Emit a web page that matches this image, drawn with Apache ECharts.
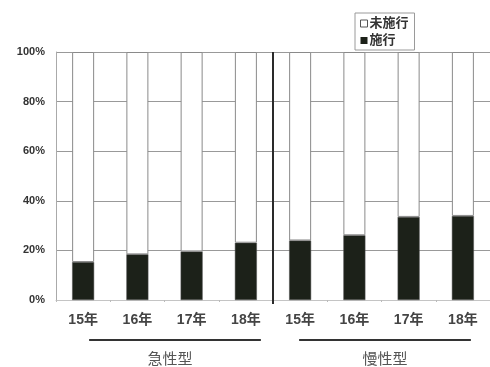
<!DOCTYPE html>
<html>
<head>
<meta charset="utf-8">
<script src="https://cdn.jsdelivr.net/npm/echarts@6/dist/echarts.min.js"></script>
<style>
  html, body { margin: 0; padding: 0; background: #fff; }
  #chart { width: 490px; height: 367px; }
</style>
</head>
<body>
<div id="chart"></div>
<script>
// Year categories, grouped as acute (急性型) and chronic (慢性型)
const categories = ['15年', '16年', '17年', '18年', '15年', '16年', '17年', '18年'];
const groups = ['急性型', '慢性型'];
// Share of cases where the procedure was performed (施行), percent
const performed = [15.3, 18.4, 19.6, 23.1, 24.0, 26.1, 33.5, 33.9];
// Remainder: not performed (未施行)
const notPerformed = performed.map(v => +(100 - v).toFixed(1));
const yTicks = [0, 20, 40, 60, 80, 100];

const chart = echarts.init(document.getElementById('chart'));
const FONT = '"Liberation Sans", Arial, "Noto Sans CJK JP", sans-serif';

chart.setOption({
  animation: false,
  grid: { left: 56, right: -2, top: 52, bottom: 67 },
  legend: {
    orient: 'vertical',
    left: 355,
    top: 13,
    padding: [4, 6, 3, 5],
    itemGap: 4,
    itemWidth: 7,
    itemHeight: 7,
    borderColor: '#9a9a9a',
    borderWidth: 1,
    textStyle: { fontFamily: FONT, fontSize: 13, fontWeight: 'bold', color: '#333', padding: [0, 0, 0, -3] },
    data: [
      { name: '未施行', icon: 'rect', itemStyle: { color: '#fff', borderColor: '#555', borderWidth: 1 } },
      { name: '施行', icon: 'rect', itemStyle: { color: '#1c2119', borderWidth: 0 } }
    ]
  },
  xAxis: {
    type: 'category',
    data: categories,
    axisLine: { lineStyle: { color: '#c4c4c4', width: 1 } },
    axisTick: { show: true, length: 2, lineStyle: { color: '#bbb' } },
    axisLabel: { margin: 13, fontFamily: FONT, fontSize: 14, fontWeight: 'bold', color: '#444' }
  },
  yAxis: {
    type: 'value',
    min: yTicks[0],
    max: yTicks[yTicks.length - 1],
    interval: 20,
    axisLine: { show: true, lineStyle: { color: '#aaa' } },
    axisTick: { show: false },
    splitLine: { lineStyle: { color: '#999', width: 1 } },
    axisLabel: {
      margin: 11,
      fontFamily: FONT, fontSize: 11, fontWeight: 'bold', color: '#333',
      formatter: v => v + '%'
    }
  },
  series: [
    {
      name: '施行',
      type: 'bar',
      stack: 'total',
      barWidth: 22,
      data: performed,
      itemStyle: { color: '#1c2119', borderColor: '#555', borderWidth: 0.5 }
    },
    {
      name: '未施行',
      type: 'bar',
      stack: 'total',
      barWidth: 22,
      data: notPerformed,
      itemStyle: { color: '#fff', borderColor: '#8a8a8a', borderWidth: 1 }
    }
  ]
});

// Group divider, group underlines and group names, placed from the category scale
const px = i => chart.convertToPixel({ xAxisIndex: 0 }, i);
const py = v => chart.convertToPixel({ yAxisIndex: 0 }, v);
const divX = (px(3) + px(4)) / 2;
const plotTop = py(100), plotBottom = py(0);
const lineY = plotBottom + 40;
const textY = plotBottom + 58;
const g1 = [px(0) + 6, px(3) + 15];
const g2 = [px(4) - 1, px(7) + 8];

chart.setOption({
  graphic: [
    { type: 'line', z: 100, shape: { x1: divX, y1: plotTop, x2: divX, y2: plotBottom + 4 },
      style: { stroke: '#2a2a2a', lineWidth: 2 } },
    { type: 'line', z: 100, shape: { x1: g1[0], y1: lineY, x2: g1[1], y2: lineY },
      style: { stroke: '#333', lineWidth: 2 } },
    { type: 'line', z: 100, shape: { x1: g2[0], y1: lineY, x2: g2[1], y2: lineY },
      style: { stroke: '#333', lineWidth: 2 } },
    { type: 'text', z: 100, x: (g1[0] + g1[1]) / 2 - 5, y: textY,
      style: { text: groups[0], font: '15px "Noto Sans CJK JP", sans-serif', fill: '#555', align: 'center', verticalAlign: 'middle' } },
    { type: 'text', z: 100, x: (g2[0] + g2[1]) / 2, y: textY,
      style: { text: groups[1], font: '15px "Noto Sans CJK JP", sans-serif', fill: '#555', align: 'center', verticalAlign: 'middle' } }
  ]
});
</script>
</body>
</html>
